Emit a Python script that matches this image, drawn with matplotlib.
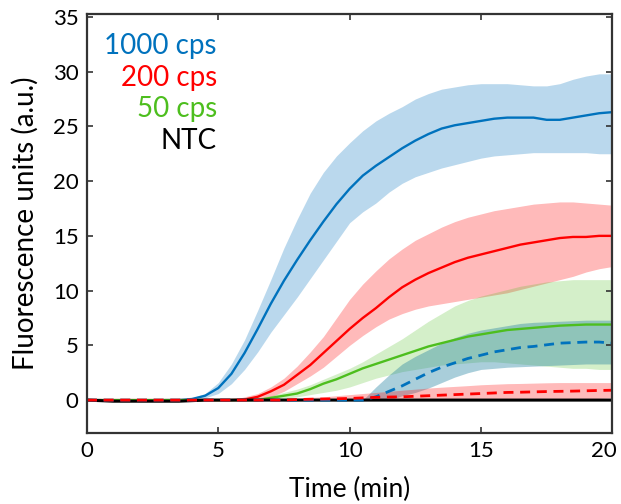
import numpy as np
import matplotlib
matplotlib.use("Agg")
import matplotlib.pyplot as plt
import matplotlib.transforms as mtransforms

plt.rcParams['font.family'] = ['Lato', 'DejaVu Sans']

# time in minutes, read every half minute
t = np.arange(0, 20.5, 0.5)

# 1000 cps (blue, solid)
blue_mean = [0, 0, -0.05, -0.05, -0.05, -0.05, 0, 0,
             0.1, 0.4, 1.1, 2.4, 4.3, 6.5, 8.8, 10.9, 12.8, 14.6,
             16.3, 17.9, 19.3, 20.5, 21.4, 22.2, 23.0, 23.7, 24.3, 24.8,
             25.1, 25.3, 25.5, 25.7, 25.8, 25.8, 25.8, 25.6, 25.6, 25.8,
             26.0, 26.2, 26.3]
blue_hi = [0] * 8 + [0.2, 0.6, 1.6, 3.3, 5.5, 8.2, 11.0, 13.9, 16.5, 18.9,
                     20.8, 22.3, 23.5, 24.6, 25.5, 26.2, 26.8, 27.5, 28.0, 28.4,
                     28.6, 28.8, 28.9, 28.9, 28.9, 28.8, 28.7, 28.7, 28.9, 29.3,
                     29.6, 29.8, 29.8]
blue_lo = [0, 0, -0.1, -0.1, -0.1, -0.1, 0, 0,
           0, 0.2, 0.6, 1.5, 2.8, 4.4, 6.2, 7.8, 9.4, 11.1,
           12.8, 14.5, 16.2, 17.2, 18.0, 19.0, 19.8, 20.4, 20.8, 21.2,
           21.5, 21.8, 22.1, 22.3, 22.4, 22.5, 22.6, 22.6, 22.6, 22.6,
           22.6, 22.5, 22.5]

# 200 cps (red, solid)
red_mean = [0] * 12 + [0.05, 0.3, 0.8, 1.4, 2.3, 3.2, 4.3, 5.4, 6.5, 7.5,
                       8.4, 9.4, 10.3, 11.0, 11.6, 12.1, 12.6, 13.0, 13.3, 13.6,
                       13.9, 14.2, 14.4, 14.6, 14.8, 14.9, 14.9, 15.0, 15.0]
red_hi = [0] * 12 + [0.3, 0.6, 1.2, 2.0, 3.1, 4.4, 5.8, 7.5, 9.2, 10.6,
                     11.8, 12.9, 13.8, 14.6, 15.2, 15.8, 16.3, 16.7, 17.0, 17.3,
                     17.5, 17.7, 17.9, 18.0, 18.1, 18.1, 18.0, 17.9, 17.8]
red_lo = [0] * 14 + [0.3, 0.8, 1.5, 2.2, 3.0, 4.0, 5.0, 5.9, 6.7, 7.4,
                     7.9, 8.3, 8.6, 8.8, 9.0, 9.2, 9.4, 9.6, 9.8, 10.1,
                     10.4, 10.7, 11.0, 11.3, 11.7, 12.0, 12.2]

# 50 cps (green, solid)
green_mean = [0] * 14 + [0.2, 0.4, 0.6, 1.0, 1.5, 1.9, 2.4, 2.9, 3.3, 3.7,
                         4.1, 4.5, 4.9, 5.2, 5.5, 5.8, 6.0, 6.2, 6.4, 6.5,
                         6.6, 6.7, 6.8, 6.85, 6.9, 6.9, 6.9]
green_hi = [0] * 12 + [0.1, 0.2, 0.4, 0.7, 1.0, 1.4, 1.9, 2.4, 2.9, 3.5,
                       4.2, 4.9, 5.6, 6.4, 7.2, 7.9, 8.6, 9.1, 9.5, 9.8,
                       10.1, 10.4, 10.6, 10.8, 10.9, 11.0, 11.0, 11.0, 11.0]
green_lo = [0] * 14 + [0.05, 0.15, 0.3, 0.5, 0.7, 0.9, 1.2, 1.6, 2.0, 2.3,
                       2.6, 2.8, 3.0, 3.2, 3.3, 3.4, 3.5, 3.5, 3.4, 3.3,
                       3.2, 3.1, 3.0, 2.9, 2.9, 2.8, 2.8]

# 1000 cps (blue, dashed)
blued_mean = [0] * 22 + [0.3, 0.8, 1.3, 1.9, 2.5, 3.0, 3.4, 3.8, 4.1, 4.4,
                         4.6, 4.8, 4.9, 5.05, 5.2, 5.25, 5.3, 5.3, 5.2]
blued_hi = [0] * 22 + [1.2, 2.3, 3.3, 4.0, 4.6, 5.2, 5.7, 6.1, 6.4, 6.6,
                       6.8, 7.0, 7.1, 7.15, 7.2, 7.25, 7.3, 7.3, 7.3]
blued_lo = [0] * 24 + [0.4, 0.7, 1.1, 1.6, 2.1, 2.5, 2.8, 2.9, 3.0, 3.05,
                       3.1, 3.15, 3.2, 3.25, 3.3, 3.3, 3.3]

# 200 cps (red, dashed)
redd_mean = [0] * 16 + [0.05, 0.08, 0.1, 0.12, 0.15, 0.2, 0.25, 0.28, 0.3, 0.35,
                        0.4, 0.45, 0.5, 0.55, 0.6, 0.65, 0.7, 0.72, 0.75, 0.78,
                        0.8, 0.82, 0.85, 0.88, 0.9]
redd_hi = [0] * 14 + [0.1, 0.15, 0.2, 0.25, 0.3, 0.4, 0.5, 0.6, 0.7, 0.8,
                      0.9, 1.0, 1.1, 1.18, 1.25, 1.32, 1.4, 1.45, 1.5, 1.52,
                      1.55, 1.58, 1.6, 1.6, 1.6, 1.6, 1.6]
redd_lo = [0] * 36 + [0.05, 0.08, 0.1, 0.15, 0.2]

# no template control
ntc = [0, -0.05, -0.1, -0.1, -0.1, -0.1, -0.1, -0.1, -0.05] + [0] * 32

labels = ["1000 cps", "200 cps", "50 cps", "NTC"]

c_blue = "#0072BD"
c_red = "#FF0000"
c_green = "#4DBE1E"

fig = plt.figure(figsize=(6.21, 5.04), dpi=100)
ax = fig.add_axes([0.140, 0.141, 0.846, 0.832])

ax.fill_between(t, blue_lo, blue_hi, color=c_blue, alpha=0.27, lw=0)
ax.fill_between(t, red_lo, red_hi, color=c_red, alpha=0.27, lw=0)
ax.fill_between(t, green_lo, green_hi, color=c_green, alpha=0.24, lw=0)
ax.fill_between(t, blued_lo, blued_hi, color="#1F7FA0", alpha=0.38, lw=0)
ax.fill_between(t, redd_lo, redd_hi, color=c_red, alpha=0.27, lw=0)

ax.plot(t, blue_mean, color=c_blue, lw=1.7)
ax.plot(t, red_mean, color=c_red, lw=1.7)
ax.plot(t, green_mean, color=c_green, lw=1.7)
ax.plot(t, ntc, color="black", lw=2.2)
ax.plot(t, blued_mean, color=c_blue, lw=2.0, ls=(0, (3.6, 2.4)))
ax.plot(t, redd_mean, color=c_red, lw=2.0, ls=(0, (3.6, 2.4)))

ax.set_xlim(0, 20)
ax.set_ylim(-3, 35.3)
ax.set_xticks([0, 5, 10, 15, 20])
ax.set_yticks([0, 5, 10, 15, 20, 25, 30, 35])
ax.tick_params(direction="in", top=True, right=True, length=4, width=1.2,
               color="#333333", labelsize=16, pad=6)
for s in ax.spines.values():
    s.set_linewidth(1.6)
    s.set_color("#333333")

# last x tick label sits on the figure edge, nudge it inside
last = ax.get_xticklabels()[-1]
last.set_transform(last.get_transform() +
                   mtransforms.ScaledTranslation(-0.08, 0, fig.dpi_scale_trans))

ax.set_xlabel("Time (min)", fontsize=19, labelpad=11)
ax.set_ylabel("Fluorescence units (a.u.)", fontsize=20, labelpad=10)

ycols = [c_blue, c_red, c_green, "black"]
ypos = [32.3, 29.4, 26.6, 23.7]
for lab, col, yy in zip(labels, ycols, ypos):
    ax.text(4.95, yy, lab, color=col, fontsize=20, ha="right", va="center")

fig.savefig("out.png", dpi=100)
